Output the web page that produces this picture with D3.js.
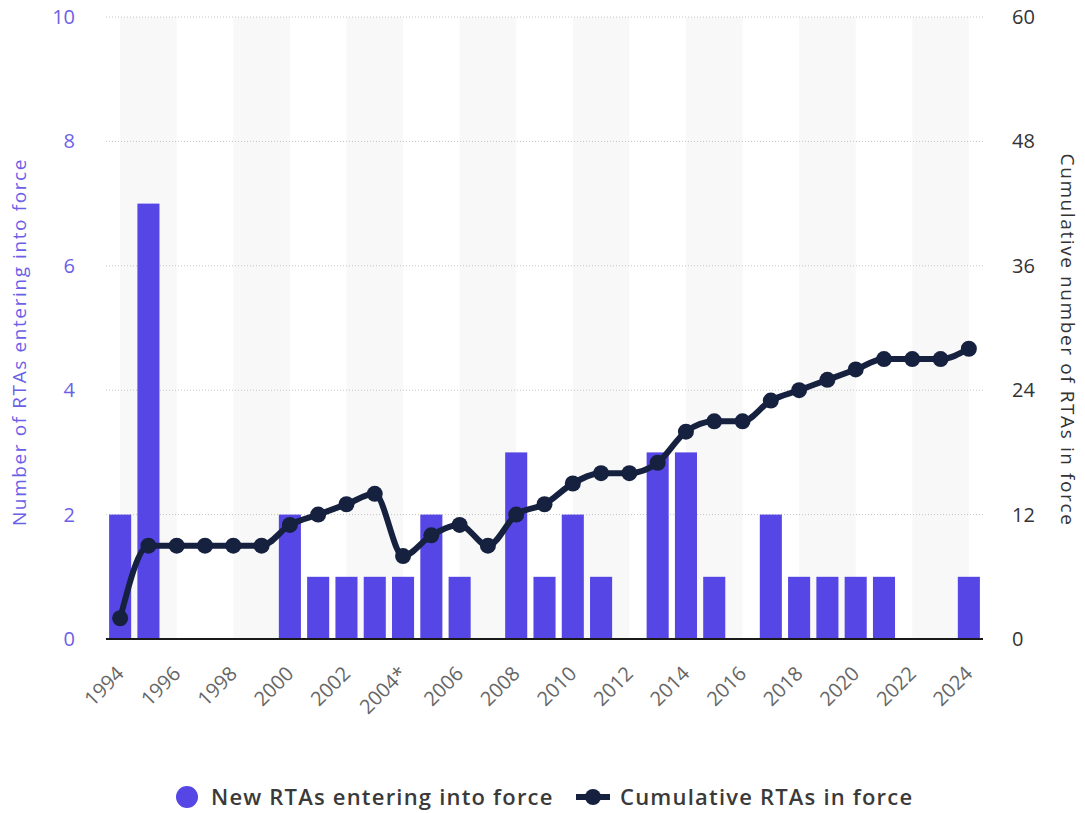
<!DOCTYPE html>
<html>
<head>
<meta charset="utf-8">
<script src="https://cdn.jsdelivr.net/npm/d3@7"></script>
<style>
  body { margin: 0; background: #fff; }
  svg text { font-family: "Open Sans", sans-serif; }
</style>
</head>
<body>
<svg id="chart" width="1085" height="813"></svg>
<script>
// data
const years = d3.range(1994, 2025).map(String);
const newRTAs = [2, 7, 0, 0, 0, 0, 2, 1, 1, 1, 1, 2, 1, 0, 3, 1, 2, 1, 0, 3, 3, 1, 0, 2, 1, 1, 1, 1, 0, 0, 1];
const cumulativeRTAs = [2, 9, 9, 9, 9, 9, 11, 12, 13, 14, 8, 10, 11, 9, 12, 13, 15, 16, 16, 17, 20, 21, 21, 23, 24, 25, 26, 27, 27, 27, 28];
const leftTicks = [0, 2, 4, 6, 8, 10];
const rightTicks = [0, 12, 24, 36, 48, 60];
const xLabelYears = d3.range(1994, 2025, 2).map(String);

const svg = d3.select("#chart");
const plotLeft = 106, plotRight = 983, plotTop = 17, plotBottom = 639;

const x = d3.scaleBand()
  .domain(years)
  .range([plotLeft, plotRight])
  .paddingInner(0.22)
  .paddingOuter(0.11);

const xc = d => x(d) + x.bandwidth() / 2;

const yL = d3.scaleLinear().domain([0, 10]).range([plotBottom, plotTop]);
const yR = d3.scaleLinear().domain([0, 60]).range([plotBottom, plotTop]);

// alternating shaded bands, centre of one labelled year to the next
svg.append("g")
  .selectAll("rect")
  .data(xLabelYears.filter((d, i) => i % 2 === 0 && i < xLabelYears.length - 1))
  .enter()
  .append("rect")
  .attr("x", d => xc(d))
  .attr("y", plotTop)
  .attr("width", d => xc(String(+d + 2)) - xc(d))
  .attr("height", plotBottom - plotTop)
  .attr("fill", "#f8f8f8");

// grid lines
svg.append("g")
  .selectAll("line")
  .data(leftTicks.filter(d => d > 0))
  .enter()
  .append("line")
  .attr("x1", plotLeft)
  .attr("x2", plotRight)
  .attr("y1", d => yL(d))
  .attr("y2", d => yL(d))
  .attr("stroke", "#c4c4c4")
  .attr("stroke-width", 1)
  .attr("stroke-dasharray", "1,2");

// bars
svg.append("g")
  .selectAll("rect")
  .data(newRTAs)
  .enter()
  .append("rect")
  .attr("x", (d, i) => x(years[i]))
  .attr("y", d => yL(d))
  .attr("width", x.bandwidth())
  .attr("height", d => plotBottom - yL(d))
  .attr("fill", "#5546e5");

// baseline
svg.append("line")
  .attr("x1", plotLeft).attr("x2", plotRight)
  .attr("y1", plotBottom).attr("y2", plotBottom)
  .attr("stroke", "#1a1a1a").attr("stroke-width", 2);

// cumulative line
const line = d3.line()
  .x((d, i) => xc(years[i]))
  .y(d => yR(d))
  .curve(d3.curveMonotoneX);

svg.append("path")
  .datum(cumulativeRTAs)
  .attr("d", line)
  .attr("fill", "none")
  .attr("stroke", "#15213f")
  .attr("stroke-width", 6)
  .attr("stroke-linejoin", "round");

svg.append("g")
  .selectAll("circle")
  .data(cumulativeRTAs)
  .enter()
  .append("circle")
  .attr("cx", (d, i) => xc(years[i]))
  .attr("cy", d => yR(d))
  .attr("r", 8)
  .attr("fill", "#15213f");

// left axis labels
svg.append("g")
  .selectAll("text")
  .data(leftTicks)
  .enter()
  .append("text")
  .attr("x", 75)
  .attr("y", d => yL(d) + 7)
  .attr("text-anchor", "end")
  .attr("font-size", 20)
  .attr("fill", "#6b5fe8")
  .text(d => d);

// right axis labels
svg.append("g")
  .selectAll("text")
  .data(rightTicks)
  .enter()
  .append("text")
  .attr("x", 1012)
  .attr("y", d => yR(d) + 7)
  .attr("text-anchor", "start")
  .attr("font-size", 20)
  .attr("fill", "#333")
  .text(d => d);

// x labels
svg.append("g")
  .selectAll("text")
  .data(xLabelYears)
  .enter()
  .append("text")
  .attr("transform", d => `translate(${xc(d) + 5},${plotBottom + 36}) rotate(-45)`)
  .attr("text-anchor", "end")
  .attr("font-size", 20)
  .attr("fill", "#666")
  .text(d => d === "2004" ? "2004*" : d);

// axis titles
svg.append("text")
  .attr("transform", `translate(26,${(plotTop + plotBottom) / 2 + 14}) rotate(-90)`)
  .attr("text-anchor", "middle")
  .attr("font-size", 19)
  .attr("letter-spacing", 1.6)
  .attr("fill", "#6b5fe8")
  .text("Number of RTAs entering into force");

svg.append("text")
  .attr("transform", `translate(1061,${(plotTop + plotBottom) / 2 + 12}) rotate(90)`)
  .attr("text-anchor", "middle")
  .attr("font-size", 19)
  .attr("letter-spacing", 1.6)
  .attr("fill", "#333")
  .text("Cumulative number of RTAs in force");

// legend
const legend = svg.append("g");
legend.append("circle")
  .attr("cx", 187).attr("cy", 797).attr("r", 11)
  .attr("fill", "#5546e5");
legend.append("text")
  .attr("x", 211).attr("y", 805)
  .attr("font-size", 22)
  .attr("font-weight", 600)
  .attr("letter-spacing", 1.2)
  .attr("fill", "#3a3a3a")
  .text("New RTAs entering into force");
legend.append("line")
  .attr("x1", 576).attr("x2", 610)
  .attr("y1", 797).attr("y2", 797)
  .attr("stroke", "#15213f").attr("stroke-width", 6);
legend.append("circle")
  .attr("cx", 593).attr("cy", 797).attr("r", 8)
  .attr("fill", "#15213f");
legend.append("text")
  .attr("x", 620).attr("y", 805)
  .attr("font-size", 22)
  .attr("font-weight", 600)
  .attr("letter-spacing", 1.2)
  .attr("fill", "#3a3a3a")
  .text("Cumulative RTAs in force");
</script>
</body>
</html>
